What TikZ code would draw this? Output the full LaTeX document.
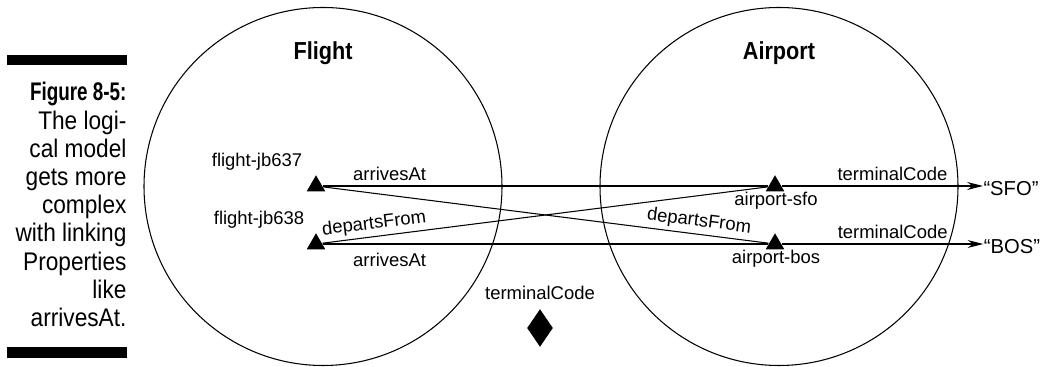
\documentclass[tikz,border=0pt]{standalone}
\usepackage{fontspec}
\setmainfont{Liberation Sans}
\newfontfamily\capfont{Liberation Sans}[FakeStretch=0.89,BoldFeatures={FakeStretch=0.74}]
\newfontfamily\clsfont{Liberation Sans}[FakeStretch=0.88]
\usetikzlibrary{arrows.meta,shapes.geometric}

\tikzset{
  res/.style={regular polygon, regular polygon sides=3, fill=black, inner sep=0pt, minimum size=0.43cm},
  lbl/.style={font=\fontsize{10.5}{12}\selectfont, inner sep=1pt},
  cls/.style={font=\clsfont\bfseries\fontsize{14}{16}\selectfont},
  lit/.style={font=\fontsize{11.5}{13}\selectfont, inner sep=0pt},
  prop/.style={-{Stealth[length=9pt,width=4.5pt]}},
  propmark/.style={diamond, fill=black, inner sep=0pt, minimum width=0.52cm, minimum height=0.76cm},
}

\begin{document}
\begin{tikzpicture}[x=0.02cm, y=-0.02cm, line width=0.6pt]
\useasboundingbox (0,0) rectangle (1042,367);

% Caption
\fill (7,55) rectangle (127,65);
\fill (7,347) rectangle (127,358);
\node[font={\capfont\fontsize{14.5}{16.05}\selectfont}, align=right, anchor=north east, inner sep=0pt] (caption) at (127,82)
  {\textbf{Figure 8-5:}\\The logi-\\cal model\\gets more\\complex\\with linking\\Properties\\like\\arrivesAt.};

% Classes
\draw (323,186.5) circle[radius=179];
\draw (779,186.5) circle[radius=179];
\node[cls] (flight) at (323,53) {Flight};
\node[cls] (airport) at (779,53) {Airport};

% Resources
\node[res] (jb637) at (316,186) {};
\node[res] (jb638) at (316,244) {};
\node[res] (sfo) at (775,186) {};
\node[res] (bos) at (775,244) {};
\node[lbl] (jb637lbl) at (257,162) {flight-jb637};
\node[lbl] (jb638lbl) at (259,220) {flight-jb638};
\node[lbl] (sfolbl) at (776,201) {airport-sfo};
\node[lbl] (boslbl) at (776,259) {airport-bos};

% Literals
\node[lit] (sfoval) at (1011,189) {“SFO”};
\node[lit] (bosval) at (1012,247) {“BOS”};

% Links
\draw (jb637) -- node[lbl, above=2pt, pos=0.15] {arrivesAt} (sfo);
\draw (jb638) -- node[lbl, below=4pt, pos=0.15] {arrivesAt} (bos);
\draw (jb638) -- node[lbl, above=1pt, pos=0.12, sloped] {departsFrom} (sfo);
\draw (jb637) -- node[lbl, above=1pt, pos=0.84, sloped] {departsFrom} (bos);
\draw[prop] (sfo) -- node[lbl, above=2pt, pos=0.55] {terminalCode} (sfo -| sfoval.west);
\draw[prop] (bos) -- node[lbl, above=2pt, pos=0.55] {terminalCode} (bos -| bosval.west);

% Property
\node[lbl] (tcode) at (540,293) {terminalCode};
\node[propmark] (tcodemark) at (540,328) {};

\end{tikzpicture}
\end{document}
